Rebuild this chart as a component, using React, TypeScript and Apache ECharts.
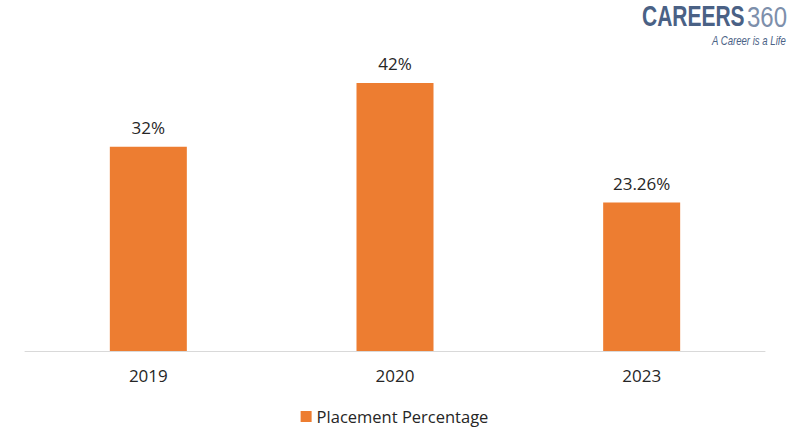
import React, { useEffect, useRef } from "react";
import * as echarts from "echarts";

const categories = ["2019", "2020", "2023"];
const placement = [32, 42, 23.26];
const labels = ["32%", "42%", "23.26%"];
const seriesName = "Placement Percentage";

export default function App() {
  const ref = useRef<HTMLDivElement>(null);
  useEffect(() => {
    const chart = echarts.init(ref.current!, null, { renderer: "svg" });
    chart.setOption({
      animation: false,
      backgroundColor: "#ffffff",
      grid: { left: 25, right: 24, top: 32, bottom: 95, containLabel: false },
      xAxis: {
        type: "category",
        data: categories,
        axisLine: { show: true, lineStyle: { color: "#D9D9D9", width: 1 } },
        axisTick: { show: false },
        axisLabel: {
          color: "#262626",
          fontSize: 17,
          fontFamily: "Open Sans",
          margin: 16,
        },
      },
      yAxis: {
        type: "value",
        min: 0,
        max: 50,
        show: false,
        splitLine: { show: false },
      },
      legend: {
        show: true,
        bottom: 16,
        left: "center",
        itemWidth: 11,
        itemHeight: 11,
        icon: "rect",
        itemGap: 8,
        textStyle: { color: "#262626", fontSize: 16.5, fontFamily: "Open Sans" },
        data: [seriesName],
      },
      series: [
        {
          name: seriesName,
          type: "bar",
          data: placement,
          barWidth: 77,
          itemStyle: { color: "#ED7D31" },
          label: {
            show: true,
            position: "top",
            distance: 11,
            color: "#262626",
            fontSize: 17,
            fontFamily: "Open Sans",
            formatter: (p: any) => labels[p.dataIndex],
          },
        },
      ],
      graphic: [
        {
          type: "text",
          x: 642,
          y: 1,
          scaleX: 0.7,
          style: {
            text: "CAREERS",
            font: "bold 30px 'Liberation Sans', Arial, sans-serif",
            fill: "#4a6185",
          },
        },
        {
          type: "text",
          x: 747,
          y: 1,
          scaleX: 0.8,
          style: {
            text: "360",
            font: "normal 30px 'Liberation Sans', Arial, sans-serif",
            fill: "#7d8fab",
          },
        },
        {
          type: "text",
          x: 712,
          y: 35,
          scaleX: 0.8,
          style: {
            text: "A Career is a Life",
            font: "italic 12px 'Liberation Sans', Arial, sans-serif",
            fill: "#4a6185",
          },
        },
      ],
    });
    return () => chart.dispose();
  }, []);
  return <div ref={ref} style={{ width: 789, height: 446, position: "absolute", left: 0, top: 0 }} />;
}
